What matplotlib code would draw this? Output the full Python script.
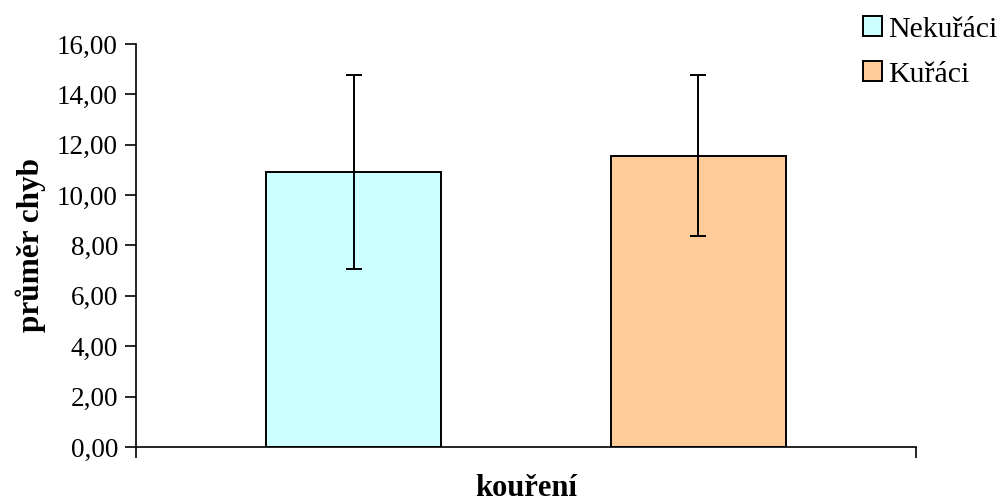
import matplotlib.pyplot as plt
from matplotlib.ticker import FuncFormatter

skupiny = ["Nekuřáci", "Kuřáci"]
prumery = [10.90, 11.56]
chyby = [3.85, 3.20]
barvy = ["#CCFFFF", "#FFCC99"]
pozice = [-0.221, 0.221]

plt.rcParams["font.family"] = ["Liberation Serif", "DejaVu Serif"]

fig = plt.figure(figsize=(10.02, 5.01), dpi=100)
ax = fig.add_axes([0.1357, 0.1078, 0.7784, 0.8044])

for x, m, e, c, lab in zip(pozice, prumery, chyby, barvy, skupiny):
    ax.bar(x, m, width=0.224, color=c, edgecolor="black", linewidth=1.4, label=lab, zorder=2)
    ax.errorbar(x, m, yerr=e, color="black", elinewidth=1.4, capsize=5.5, capthick=1.4, zorder=3)

ax.set_xlim(-0.5, 0.5)
ax.set_ylim(0, 16)
ax.set_yticks(range(0, 17, 2))
ax.yaxis.set_major_formatter(FuncFormatter(lambda v, p: f"{v:.2f}".replace(".", ",")))
ax.set_xticks([-0.5, 0.5])
ax.set_xticklabels(["", ""])
ax.tick_params(axis="both", direction="out", length=8, width=1.2, labelsize=19.5, pad=5)
ax.spines["top"].set_visible(False)
ax.spines["right"].set_visible(False)
ax.spines["left"].set_linewidth(1.2)
ax.spines["bottom"].set_linewidth(1.2)

ax.set_ylabel("průměr chyb", fontsize=22.5, fontweight="bold", va="center")
ax.yaxis.set_label_coords(-0.1346, 0.5)
ax.set_xlabel("kouření", fontsize=22, fontweight="bold", va="baseline")
ax.xaxis.set_label_coords(0.5, -0.121)

fig.legend(loc="upper left", bbox_to_anchor=(0.849, 0.991), frameon=False, fontsize=21.5,
           handlelength=0.65, handleheight=0.65, handletextpad=0.2, labelspacing=0.62,
           borderaxespad=0)

fig.savefig("out.png", dpi=100)
